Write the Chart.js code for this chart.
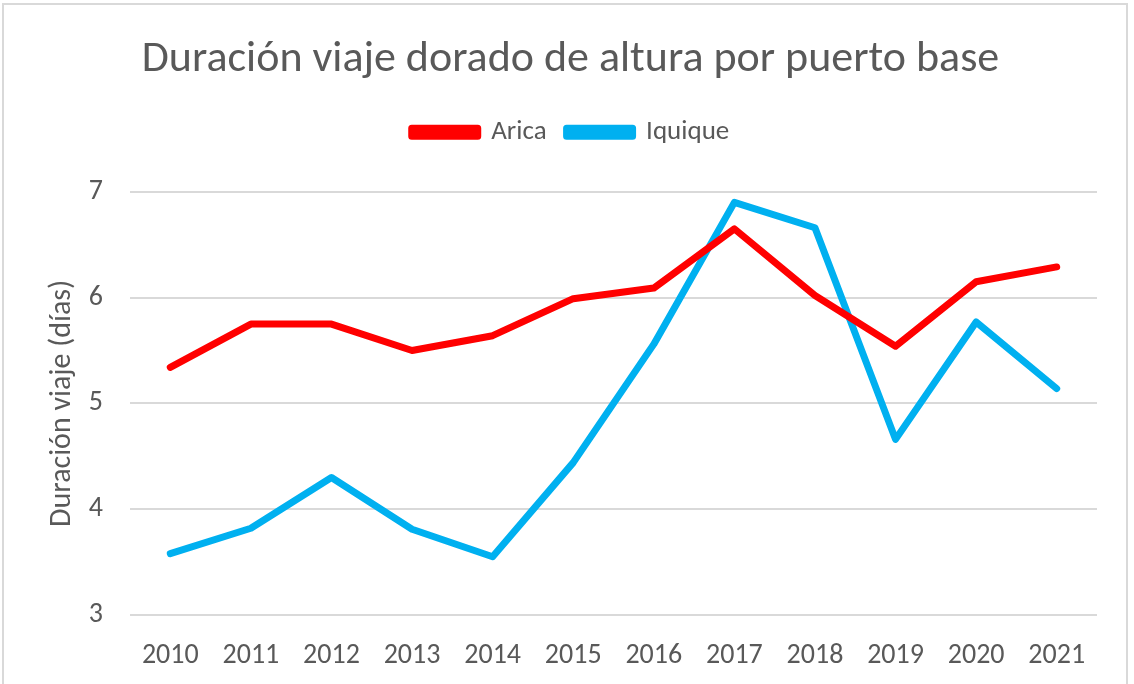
<!DOCTYPE html>
<html>
<head>
<meta charset="utf-8">
<script src="https://cdn.jsdelivr.net/npm/chart.js@4.4.0/dist/chart.umd.min.js"></script>
<style>
  body { margin: 0; background: #fff; }
  #wrap { position: absolute; left: 0; top: 0; width: 1134px; height: 684px; }
  #frame { position: absolute; left: 2px; top: 3px; width: 1126px; height: 690px; border: 2px solid #d9d9d9; box-sizing: border-box; }
</style>
</head>
<body>
<div id="wrap">
  <canvas id="myChart" width="1134" height="684"></canvas>
  <div id="frame"></div>
</div>
<script>
// datos
var years = ['2010', '2011', '2012', '2013', '2014', '2015', '2016', '2017', '2018', '2019', '2020', '2021'];
var arica = [5.34, 5.75, 5.75, 5.50, 5.64, 5.99, 6.09, 6.65, 6.02, 5.54, 6.15, 6.29];
var iquique = [3.58, 3.82, 4.30, 3.81, 3.55, 4.44, 5.56, 6.90, 6.66, 4.66, 5.77, 5.14];
var yTicks = [3, 4, 5, 6, 7];

var gray = '#595959';
var font = "Calibri, Carlito, 'Open Sans', sans-serif";

var ctx = document.getElementById('myChart').getContext('2d');
var myChart = new Chart(ctx, {
	type: 'line',
	data: {
		labels: years,
		datasets: [
			{
				label: 'Arica',
				data: arica,
				borderColor: '#ff0000',
				backgroundColor: '#ff0000',
				borderWidth: 7,
				borderCapStyle: 'round',
				borderJoinStyle: 'round',
				pointRadius: 0,
				tension: 0
			},
			{
				label: 'Iquique',
				data: iquique,
				borderColor: '#00b0f0',
				backgroundColor: '#00b0f0',
				borderWidth: 7,
				borderCapStyle: 'round',
				borderJoinStyle: 'round',
				pointRadius: 0,
				tension: 0
			}
		]
	},
	options: {
		responsive: false,
		animation: false,
		layout: { padding: { left: 44, right: 37, top: 20, bottom: 15 } },
		plugins: {
			title: {
				display: true,
				text: 'Duración viaje dorado de altura por puerto base',
				color: gray,
				font: { family: font, size: 44, weight: 'normal' },
				padding: { top: 14, bottom: 12 }
			},
			// espacio vacio debajo de la leyenda
			subtitle: {
				display: true,
				text: ' ',
				weight: 500,
				font: { size: 10 },
				padding: { top: 10, bottom: 14 }
			},
			legend: {
				labels: {
					color: gray,
					font: { family: font, size: 27 },
					boxWidth: 66,
					boxHeight: 8,
					padding: 20
				}
			},
			tooltip: { enabled: false }
		},
		scales: {
			x: {
				offset: true,
				grid: { display: false, drawTicks: false },
				border: { display: false },
				ticks: { color: gray, font: { family: font, size: 28 }, padding: 24, maxRotation: 0 },
				afterFit: function(scale) {
					scale.height = 54;
					scale.paddingLeft = 0;
					scale.paddingRight = 0;
				}
			},
			y: {
				min: 3,
				max: 7,
				afterBuildTicks: function(scale) {
					scale.ticks = yTicks.map(function(v) { return { value: v }; });
				},
				afterFit: function(scale) {
					scale.width = 86;
					scale.paddingTop = 0;
					scale.paddingBottom = 0;
				},
				grid: { color: '#d9d9d9', lineWidth: 2, drawTicks: false },
				border: { display: false },
				ticks: { color: gray, font: { family: font, size: 28 }, padding: 27 },
				title: {
					display: true,
					text: 'Duración viaje (días)',
					color: gray,
					font: { family: font, size: 30 },
					padding: 0
				}
			}
		}
	}
});
</script>
</body>
</html>
